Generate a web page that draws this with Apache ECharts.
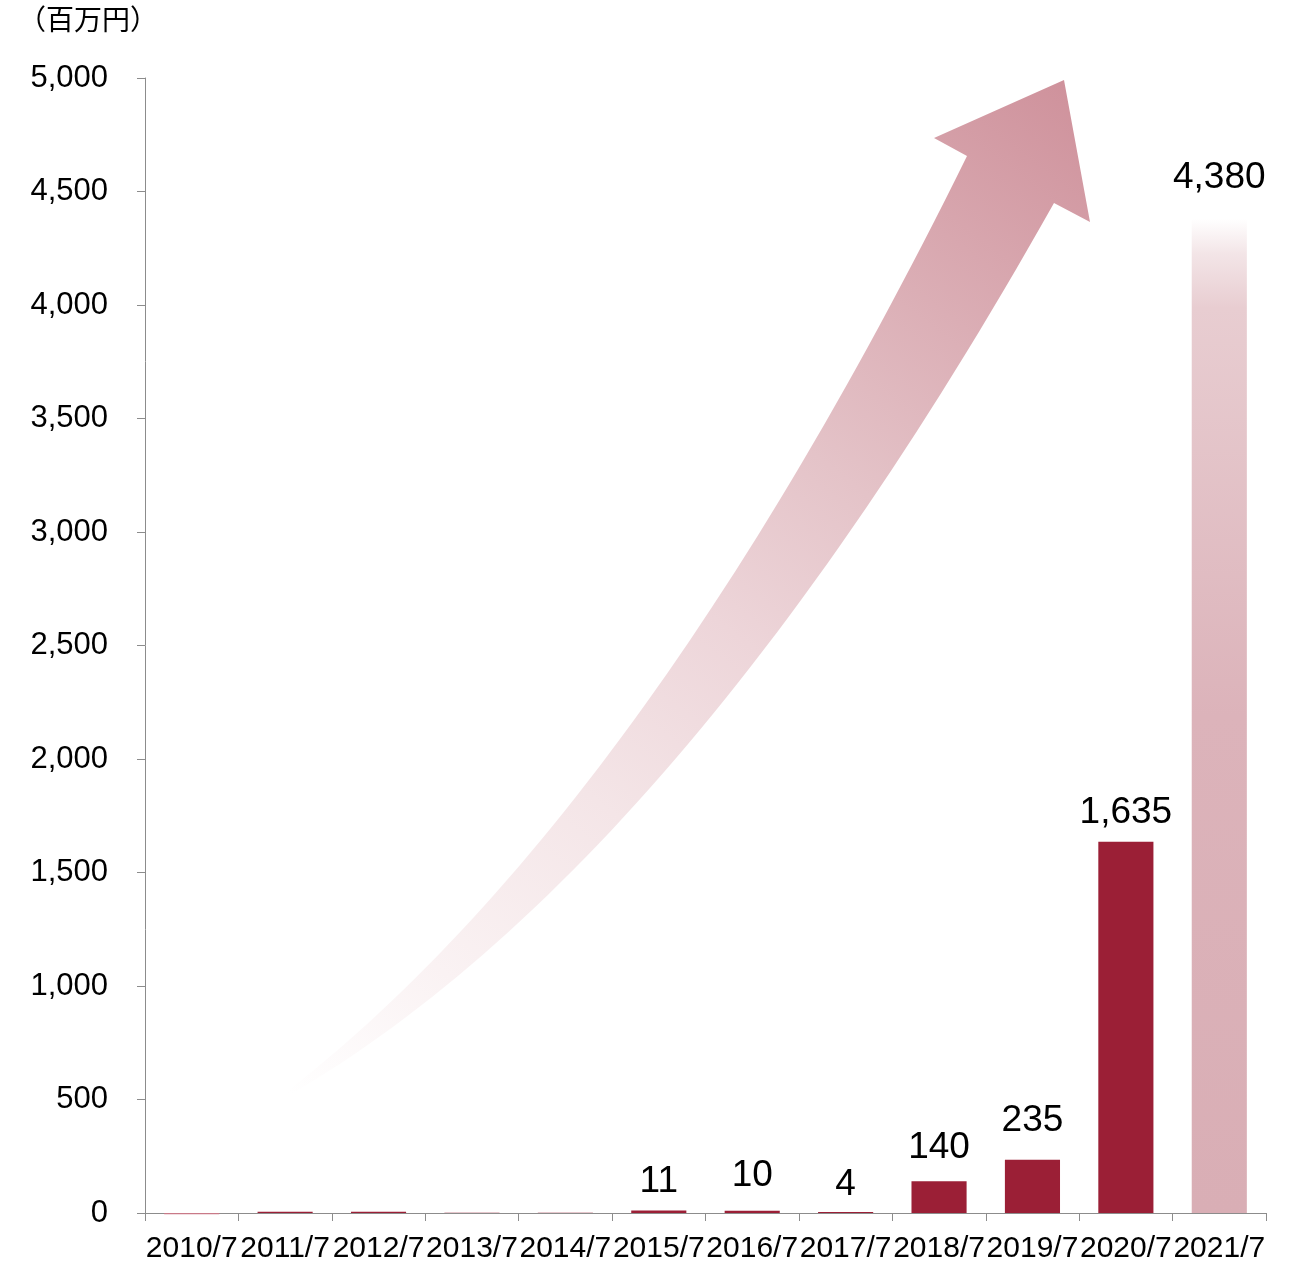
<!DOCTYPE html>
<html>
<head>
<meta charset="utf-8">
<script src="https://cdn.jsdelivr.net/npm/echarts@6/dist/echarts.min.js"></script>
<style>
  html, body { margin: 0; padding: 0; background: #fff; }
  #chart { width: 1290px; height: 1264px; }
</style>
</head>
<body>
<div id="chart"></div>
<script>
// ---- data ----
const categories = ['2010/7','2011/7','2012/7','2013/7','2014/7','2015/7','2016/7','2017/7','2018/7','2019/7','2020/7','2021/7'];
const values = [-6, 5, 5, 1, 1, 11, 10, 4, 140, 235, 1635, 4380];
const valueLabels = ['', '', '', '', '', '11', '10', '4', '140', '235', '1,635', '4,380'];
const yTicks = { min: 0, max: 5000, interval: 500 };
const unitLabel = '（百万円）';

// ---- layout / style (not data) ----
const labelGap = [8, 8, 8, 8, 8, 10, 16, 9, 15, 20, 11, 22];
const FONT = '"Liberation Sans", Arial, sans-serif';
const BAR = '#9B1F36';

const chart = echarts.init(document.getElementById('chart'), null, { renderer: 'canvas' });

const lastIdx = values.length - 1;
const seriesData = values.map((v, i) => {
  const item = { value: v, label: { distance: labelGap[i] } };
  if (i === 0) {
    item.itemStyle = { color: '#C97A88' };
  }
  if (i === lastIdx) {
    item.itemStyle = {
      color: {
        type: 'linear', x: 0, y: 0, x2: 0, y2: 1,
        colorStops: [
          { offset: 0, color: 'rgba(255,255,255,1)' },
          { offset: 0.035, color: '#F3E5E7' },
          { offset: 0.09, color: '#E8CDD1' },
          { offset: 0.5, color: '#DCB3BA' },
          { offset: 1, color: '#D9AEB5' }
        ]
      }
    };
  }
  return item;
});

// decorative curved arrow (not data): two quadratic edges + arrow head
function quad(p0, c, p1, n) {
  const out = [];
  for (let s = 0; s <= n; s++) {
    const t = s / n, u = 1 - t;
    out.push([u*u*p0[0] + 2*u*t*c[0] + t*t*p1[0], u*u*p0[1] + 2*u*t*c[1] + t*t*p1[1]]);
  }
  return out;
}
const tail = [284, 1094];
const leftEdge = quad(tail, [641, 817], [967, 156], 60);
const headPts = [[934, 138], [1064, 80], [1090, 222]];
const rightEdge = quad([1054, 203], [680, 868], [288, 1096], 60);
const arrowPoints = leftEdge.concat(headPts, rightEdge);

const option = {
  animation: false,
  backgroundColor: '#fff',
  textStyle: { fontFamily: FONT },
  grid: { left: 145, right: 24, top: 78, bottom: 51, containLabel: false },
  graphic: [
    {
      type: 'polygon',
      z: 0,
      silent: true,
      shape: { points: arrowPoints },
      style: {
        fill: {
          type: 'linear', x: 290, y: 1095, x2: 1065, y2: 85, global: true,
          colorStops: [
            { offset: 0, color: 'rgba(255,255,255,1)' },
            { offset: 0.15, color: '#FAF2F3' },
            { offset: 0.33, color: '#F4E5E7' },
            { offset: 0.5, color: '#EDD5D9' },
            { offset: 0.65, color: '#E4C3C8' },
            { offset: 1, color: '#CF929C' }
          ]
        }
      }
    },
    {
      type: 'text',
      left: 18,
      top: 5,
      style: {
        text: unitLabel,
        fontSize: 28,
        fontFamily: '"Noto Sans CJK JP", sans-serif',
        fill: '#000'
      }
    }
  ],
  xAxis: {
    type: 'category',
    data: categories,
    boundaryGap: true,
    axisLine: { show: true, onZero: false, lineStyle: { color: '#8C8C8C', width: 1 } },
    axisTick: { show: true, length: 8, lineStyle: { color: '#8C8C8C' } },
    axisLabel: { color: '#000', fontSize: 30, fontFamily: FONT, margin: 21, interval: 0 },
    splitLine: { show: false }
  },
  yAxis: {
    type: 'value',
    min: yTicks.min,
    max: yTicks.max,
    interval: yTicks.interval,
    axisLine: { show: true, lineStyle: { color: '#8C8C8C', width: 1 } },
    axisTick: { show: true, length: 8, lineStyle: { color: '#8C8C8C' } },
    axisLabel: {
      color: '#000', fontSize: 31, fontFamily: FONT, margin: 37,
      formatter: v => v.toLocaleString('en-US')
    },
    splitLine: { show: false }
  },
  series: [{
    type: 'bar',
    data: seriesData,
    barCategoryGap: '41%',
    itemStyle: { color: BAR },
    z: 2,
    clip: false,
    label: {
      show: true,
      position: 'top',
      color: '#000',
      fontSize: 37,
      fontFamily: FONT,
      formatter: p => valueLabels[p.dataIndex]
    }
  }]
};
chart.setOption(option);
</script>
</body>
</html>
